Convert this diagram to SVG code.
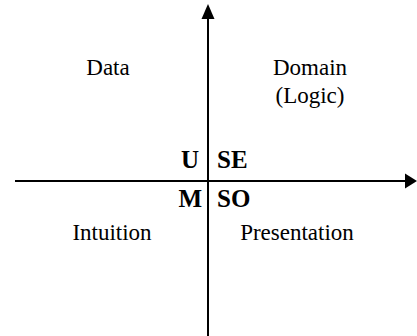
<svg xmlns="http://www.w3.org/2000/svg" width="417" height="336" viewBox="0 0 417 336">
<style>
text{font-family:'Liberation Serif','Times New Roman',Times,'DejaVu Serif',serif;fill:#000}
.t{font-size:23px;text-anchor:middle}
.b{font-size:25px;font-weight:bold}
.ax{stroke:#000;stroke-width:2;fill:none}
</style>
<rect width="417" height="336" fill="#fff"/>
<g id="connectors">
<line class="ax" x1="208" y1="18" x2="208" y2="336"/>
<polygon points="208,4 201.5,19 214.5,19" fill="#000"/>
<line class="ax" x1="15" y1="181" x2="405" y2="181"/>
<polygon points="417,181 405,173.5 405,188.5" fill="#000"/>
</g>
<g id="data"><text class="t" x="108" y="75" font-family="Liberation Serif, serif">Data</text></g>
<g id="domain"><text class="t" x="310" y="75" font-family="Liberation Serif, serif">Domain</text><text class="t" x="310" y="103" font-family="Liberation Serif, serif">(Logic)</text></g>
<g id="intuition"><text class="t" x="112" y="240" font-family="Liberation Serif, serif">Intuition</text></g>
<g id="presentation"><text class="t" x="297" y="240" font-family="Liberation Serif, serif">Presentation</text></g>
<g id="u"><text class="b" x="199" y="168" text-anchor="end" font-family="Liberation Serif, serif">U</text></g>
<g id="se"><text class="b" x="217" y="168" font-family="Liberation Serif, serif">SE</text></g>
<g id="m"><text class="b" x="202" y="207" text-anchor="end" font-family="Liberation Serif, serif">M</text></g>
<g id="so"><text class="b" x="217" y="207" font-family="Liberation Serif, serif">SO</text></g>
</svg>
